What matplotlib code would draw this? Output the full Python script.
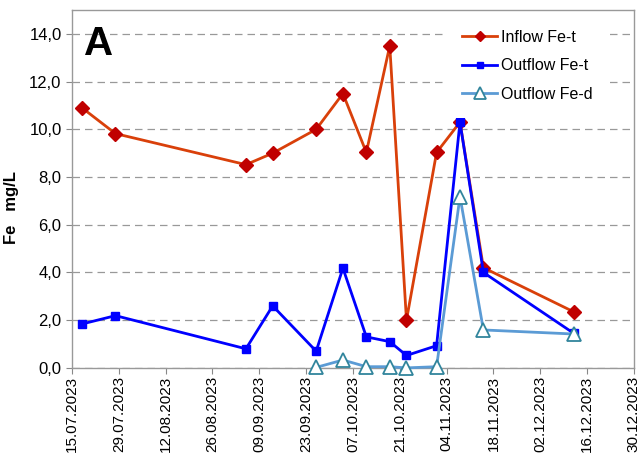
import datetime as dt
import matplotlib
matplotlib.use("Agg")
import matplotlib.pyplot as plt
from matplotlib.ticker import FuncFormatter, MultipleLocator

plt.rcParams['font.family'] = ['Liberation Sans', 'DejaVu Sans']

# --- sampling dates and concentrations (mg/L) ---
dates = ["18.07.2023", "28.07.2023", "05.09.2023", "13.09.2023", "26.09.2023",
         "04.10.2023", "11.10.2023", "18.10.2023", "23.10.2023", "01.11.2023",
         "08.11.2023", "15.11.2023", "12.12.2023"]
inflow_fe_t = [10.9, 9.82, 8.52, 9.0, 10.0, 11.5, 9.03, 13.5, 2.0, 9.03, 10.3, 4.2, 2.35]
outflow_fe_t = [1.84, 2.19, 0.8, 2.6, 0.7, 4.18, 1.3, 1.1, 0.52, 0.93, 10.3, 4.0, 1.45]
# dissolved iron only measured from late September on
fe_d_dates = dates[4:]
outflow_fe_d = [0.02, 0.33, 0.05, 0.05, 0.0, 0.05, 7.18, 1.59, 1.42]

tick_start = "15.07.2023"
tick_end = "30.12.2023"


def to_date(s):
    return dt.datetime.strptime(s, "%d.%m.%Y")


x = [to_date(d) for d in dates]
x_d = [to_date(d) for d in fe_d_dates]

fig = plt.figure(figsize=(6.4, 4.57), dpi=100)
ax = fig.add_axes([0.1125, 0.195, 0.878, 0.783])

ax.plot(x, inflow_fe_t, color='#D9400A', lw=2, marker='D', ms=7,
        mfc='#C00000', mec='#C00000', label='Inflow Fe-t', zorder=3)
ax.plot(x, outflow_fe_t, color='#0000FF', lw=2, marker='s', ms=6,
        mfc='#0000FF', mec='#0000FF', label='Outflow Fe-t', zorder=4)
ax.plot(x_d, outflow_fe_d, color='#5B9BD5', lw=2, marker='^', ms=10,
        mfc='white', mec='#31859C', mew=1.3, label='Outflow Fe-d', zorder=5,
        clip_on=False)

# --- axes ---
ax.set_ylim(0, 15)
ax.yaxis.set_major_locator(MultipleLocator(2))
ax.yaxis.set_major_formatter(FuncFormatter(lambda v, p: f"{v:.1f}".replace('.', ',')))
ax.set_xlim(to_date(tick_start), to_date(tick_end))
ticks = [to_date(tick_start) + dt.timedelta(days=14 * i) for i in range(13)]
ax.set_xticks(ticks)
ax.set_xticklabels([t.strftime('%d.%m.%Y') for t in ticks], rotation=90, fontsize=11)
plt.setp(ax.get_yticklabels(), fontsize=12)
ax.tick_params(axis='both', colors='#000000', length=4, color='#888888')
ax.tick_params(axis='x', pad=2)

ax.grid(axis='y', linestyle=(0, (6, 4)), color='#999999', lw=0.9)
ax.set_axisbelow(True)
for sp in ax.spines.values():
    sp.set_color('#999999')
    sp.set_linewidth(1)

ax.set_ylabel('Fe   mg/L', fontsize=12, fontweight='bold')
ax.yaxis.set_label_coords(-0.094, 0.447)
ax.text(0.022, 0.958, 'A', transform=ax.transAxes, fontsize=29,
        fontweight='bold', va='top', ha='left')

leg = ax.legend(loc='upper left', bbox_to_anchor=(0.666, 0.99), frameon=True,
                fontsize=11.5, handlelength=2.2, handletextpad=0.2,
                labelspacing=0.85, borderpad=1.0, borderaxespad=0,
                markerscale=0.8)
leg.get_frame().set_facecolor('white')
leg.get_frame().set_edgecolor('white')
leg.get_frame().set_alpha(1)
leg.get_frame().set_linewidth(0)

fig.savefig('out.png', dpi=100)
